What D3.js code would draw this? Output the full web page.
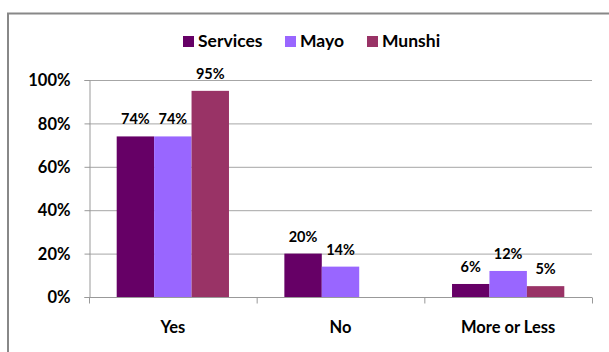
<!DOCTYPE html>
<html>
<head>
<meta charset="utf-8">
<script src="https://cdn.jsdelivr.net/npm/d3@7"></script>
<style>
  body { margin: 0; background: #fff; }
  text { font-family: Lato, "Open Sans", sans-serif; font-weight: bold; fill: #000; }
</style>
</head>
<body>
<svg id="chart"></svg>
<script>
// data
const categories = ["Yes", "No", "More or Less"];
const seriesNames = ["Services", "Mayo", "Munshi"];
const services = [74, 20, 6];
const mayo = [74, 14, 12];
const munshi = [95, 0, 5];
const yTicks = [0, 20, 40, 60, 80, 100];
const colors = ["#660066", "#9966ff", "#993366"];

const width = 609, height = 352;
const margin = { top: 80, right: 17, bottom: 55, left: 89 };

const svg = d3.select("#chart").attr("width", width).attr("height", height);

// outer chart frame
svg.append("rect")
  .attr("x", 8).attr("y", 13.5)
  .attr("width", 620).attr("height", 360)
  .attr("fill", "none").attr("stroke", "#888").attr("stroke-width", 2);

const w = width - margin.left - margin.right;
const h = height - margin.top - margin.bottom;
const g = svg.append("g").attr("transform", `translate(${margin.left},${margin.top})`);

const x0 = d3.scaleBand().domain(categories).range([0, w]);
const x1 = d3.scaleBand().domain(seriesNames).range([0, x0.bandwidth()]).paddingOuter(0.74);
const y = d3.scaleLinear().domain([0, 100]).range([h, 0]);

// gridlines
g.selectAll("line.grid")
  .data(yTicks.filter(d => d > 0))
  .join("line")
  .attr("class", "grid")
  .attr("x1", 0).attr("x2", w)
  .attr("y1", d => y(d) + 0.5).attr("y2", d => y(d) + 0.5)
  .attr("stroke", "#a6a6a6").attr("stroke-width", 1);

// y axis
const yAxis = g.append("g").attr("transform", "translate(0.5,0)")
  .call(d3.axisLeft(y).tickValues(yTicks).tickFormat(d => d + "%").tickSize(5).tickPadding(14));
yAxis.select(".domain").attr("stroke", "#999");
yAxis.selectAll(".tick line").attr("stroke", "#999");
yAxis.selectAll("text").style("font-size", "16.5px").attr("dy", "0.35em");

// bars
const table = categories.map((c, i) => ({
  cat: c,
  vals: [services[i], mayo[i], munshi[i]].map((v, j) => ({ name: seriesNames[j], v: v, c: colors[j] }))
}));

const groups = g.selectAll("g.group")
  .data(table)
  .join("g")
  .attr("class", "group")
  .attr("transform", d => `translate(${x0(d.cat)},0)`);

groups.selectAll("rect")
  .data(d => d.vals.filter(e => e.v > 0))
  .join("rect")
  .attr("x", d => x1(d.name))
  .attr("width", x1.bandwidth())
  .attr("y", d => y(d.v))
  .attr("height", d => h - y(d.v))
  .attr("fill", d => d.c);

groups.selectAll("text.val")
  .data(d => d.vals.filter(e => e.v > 0))
  .join("text")
  .attr("class", "val")
  .attr("x", d => x1(d.name) + x1.bandwidth() / 2)
  .attr("y", d => y(d.v) - 12)
  .attr("text-anchor", "middle")
  .style("font-size", "14.5px")
  .text(d => d.v + "%");

// x axis
const xAxisG = g.append("g").attr("transform", `translate(0,${h + 0.5})`);
xAxisG.append("line").attr("x1", 0).attr("x2", w).attr("stroke", "#999");
xAxisG.selectAll("line.tk")
  .data(categories.map(c => x0(c)).concat([w]))
  .join("line")
  .attr("class", "tk")
  .attr("x1", d => d + 0.5).attr("x2", d => d + 0.5)
  .attr("y1", 0).attr("y2", 6)
  .attr("stroke", "#999");
xAxisG.selectAll("text")
  .data(categories)
  .join("text")
  .attr("x", d => x0(d) + x0.bandwidth() / 2)
  .attr("y", 35)
  .attr("text-anchor", "middle")
  .style("font-size", "16.5px")
  .text(d => d);

// legend
const legendX = [183, 285, 367];
const legend = svg.append("g").selectAll("g")
  .data(seriesNames)
  .join("g")
  .attr("transform", (d, i) => `translate(${legendX[i]},41)`);
legend.append("rect")
  .attr("x", 0).attr("y", -5).attr("width", 11).attr("height", 11)
  .attr("fill", (d, i) => colors[i]);
legend.append("text")
  .attr("x", 15).attr("y", 0).attr("dy", "0.35em")
  .style("font-size", "17.5px")
  .text(d => d);
</script>
</body>
</html>
